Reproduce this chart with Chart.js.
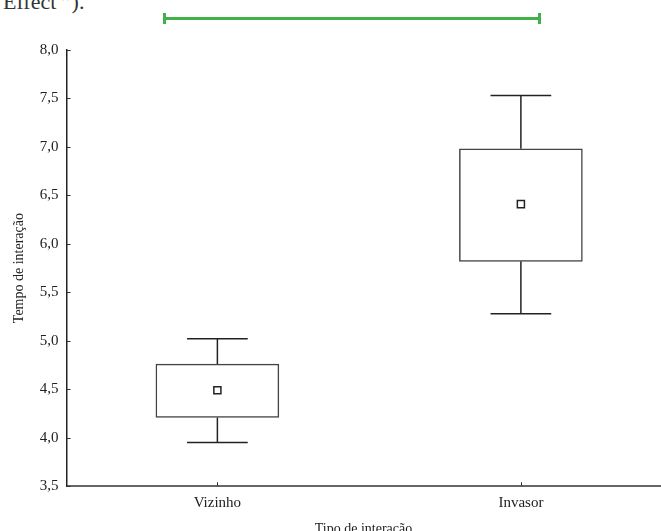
<!DOCTYPE html>
<html>
<head>
<meta charset="utf-8">
<script src="https://cdn.jsdelivr.net/npm/chart.js@4.4.1/dist/chart.umd.min.js"></script>
<style>
  html, body { margin: 0; padding: 0; background: #fff; overflow: hidden; }
  #wrap { position: absolute; left: 0; top: 0; width: 667px; height: 542px; }
  #caption { position: absolute; left: 3px; top: -10px; font-family: "Liberation Serif", serif; font-size: 22px; line-height: 24px; color: #333; white-space: nowrap; }
  .sig { position: absolute; background: #43b049; }
</style>
</head>
<body>
<div id="caption">Effect ”).</div>
<div class="sig" style="left:163px; top:17px; width:378px; height:3px;"></div>
<div class="sig" style="left:163px; top:13px; width:3px; height:11px;"></div>
<div class="sig" style="left:538px; top:13px; width:3px; height:11px;"></div>
<div id="wrap"><canvas id="boxChart"></canvas></div>
<script>
// box plot values
var categories = ["Vizinho", "Invasor"];
var whiskerLow = [3.95, 5.28];
var boxLow = [4.21, 5.82];
var means = [4.49, 6.41];
var boxHigh = [4.76, 6.98];
var whiskerHigh = [5.02, 7.53];
var yTicks = [3.5, 4.0, 4.5, 5.0, 5.5, 6.0, 6.5, 7.0, 7.5, 8.0];

var serif = "'Liberation Serif', 'Times New Roman', serif";

function buildWhiskers() {
  var pts = [];
  var cap = 0.1;
  for (var i = 0; i < categories.length; i++) {
    var x = i + 1;
    pts.push({x: x, y: boxHigh[i]}, {x: x, y: whiskerHigh[i]}, {x: x, y: null});
    pts.push({x: x - cap, y: whiskerHigh[i]}, {x: x + cap, y: whiskerHigh[i]}, {x: x, y: null});
    pts.push({x: x, y: boxLow[i]}, {x: x, y: whiskerLow[i]}, {x: x, y: null});
    pts.push({x: x - cap, y: whiskerLow[i]}, {x: x + cap, y: whiskerLow[i]}, {x: x, y: null});
  }
  return pts;
}

// small tick marks pointing into the plot, like the original
var innerTicks = {
  id: 'innerTicks',
  afterDraw: function(chart) {
    var ctx = chart.ctx, xs = chart.scales.x, ys = chart.scales.y;
    ctx.save();
    ctx.strokeStyle = '#333';
    ctx.lineWidth = 1;
    ys.ticks.forEach(function(t) {
      var y = Math.round(ys.getPixelForValue(t.value)) + 0.5;
      ctx.beginPath(); ctx.moveTo(xs.left, y); ctx.lineTo(xs.left + 4, y); ctx.stroke();
    });
    xs.ticks.forEach(function(t) {
      var x = Math.round(xs.getPixelForValue(t.value)) + 0.5;
      ctx.beginPath(); ctx.moveTo(x, ys.bottom); ctx.lineTo(x, ys.bottom - 4); ctx.stroke();
    });
    ctx.restore();
  }
};

var boxCanvas = document.getElementById("boxChart");

var boxData = {
  type: 'bar',
  data: categories.map(function(c, i) { return {x: i + 1, y: [boxLow[i], boxHigh[i]]}; }),
  backgroundColor: '#ffffff',
  borderColor: '#444444',
  borderWidth: 1.5,
  borderSkipped: false,
  barThickness: 123,
  order: 2
};

var whiskerData = {
  type: 'line',
  data: buildWhiskers(),
  borderColor: '#222222',
  borderWidth: 1.5,
  pointRadius: 0,
  spanGaps: false,
  fill: false,
  order: 3
};

var meanData = {
  type: 'scatter',
  data: categories.map(function(c, i) { return {x: i + 1, y: means[i]}; }),
  pointStyle: 'rect',
  pointRadius: 5,
  borderColor: '#222222',
  backgroundColor: '#ffffff',
  borderWidth: 1.5,
  order: 1
};

var boxChart = new Chart(boxCanvas, {
  type: 'bar',
  data: { datasets: [boxData, whiskerData, meanData] },
  plugins: [innerTicks],
  options: {
    responsive: true,
    maintainAspectRatio: false,
    animation: false,
    layout: { padding: { top: 50, left: 7, right: 0, bottom: 0 } },
    plugins: { legend: { display: false }, tooltip: { enabled: false } },
    scales: {
      x: {
        type: 'linear',
        offset: false,
        min: 0.503,
        max: 2.46,
        afterBuildTicks: function(scale) {
          scale.ticks = categories.map(function(c, i) { return {value: i + 1}; });
        },
        ticks: {
          callback: function(v) { return categories[v - 1]; },
          font: { family: serif, size: 15 },
          color: '#222',
          padding: 8
        },
        grid: { display: false, drawTicks: false },
        border: { color: '#666', width: 2 },
        title: {
          display: true,
          text: 'Tipo de interação',
          font: { family: serif, size: 14 },
          color: '#222',
          padding: { top: 1, bottom: 4 }
        }
      },
      y: {
        min: 3.5,
        max: 8.0,
        afterBuildTicks: function(scale) {
          scale.ticks = yTicks.map(function(v) { return {value: v}; });
        },
        ticks: {
          callback: function(v) { return v.toFixed(1).replace('.', ','); },
          font: { family: serif, size: 15 },
          color: '#222',
          padding: 8
        },
        grid: { display: false, drawTicks: false },
        border: { color: '#222', width: 1.5 },
        title: {
          display: true,
          text: 'Tempo de interação',
          font: { family: serif, size: 14 },
          color: '#222',
          padding: { top: 4, bottom: 4 }
        }
      }
    }
  }
});
</script>
</body>
</html>
